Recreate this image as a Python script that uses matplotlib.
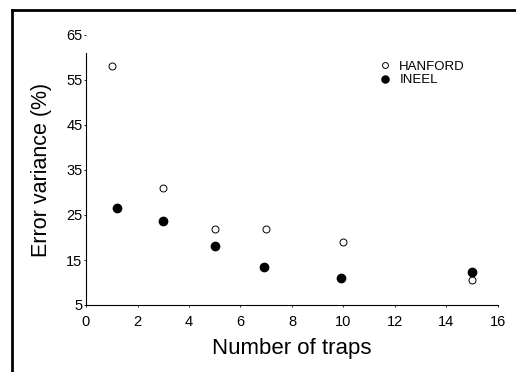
import matplotlib
matplotlib.use('Agg')
import matplotlib.pyplot as plt
from matplotlib.lines import Line2D

plt.rcParams['font.family'] = ['Liberation Sans', 'DejaVu Sans']

# number of traps and error variance (%)
hanford_x = [1, 3, 5, 7, 10, 15]
hanford_y = [58, 31, 22, 22, 19, 10.5]
ineel_x = [1.2, 3, 5, 6.9, 9.9, 15]
ineel_y = [26.5, 23.7, 18.2, 13.5, 10.9, 12.4]

xticks = [0, 2, 4, 6, 8, 10, 12, 14, 16]
yticks = [5, 15, 25, 35, 45, 55, 65]

fig = plt.figure(figsize=(5.16, 3.72), dpi=100)
ax = fig.add_axes([86/516, 67/372, 412/516, 270/372])

ax.plot(hanford_x, hanford_y, 'o', mfc='white', mec='black', mew=0.7,
        ms=5, ls='none', clip_on=False, label='HANFORD')
ax.plot(ineel_x, ineel_y, 'o', color='black', ms=6, ls='none',
        clip_on=False, label='INEEL')

ax.set_xlim(0, 16)
ax.set_ylim(5, 65)
ax.set_xticks(xticks)
ax.set_yticks(yticks)
ax.spines['top'].set_visible(False)
ax.spines['right'].set_visible(False)
ax.spines['left'].set_bounds(5, 61)
ax.spines['left'].set_linewidth(0.8)
ax.spines['bottom'].set_linewidth(0.8)
ax.tick_params(axis='y', length=1.5, width=0.6, pad=1, labelsize=10.5)
ax.tick_params(axis='x', length=1.5, width=0.6, pad=6, labelsize=10.5)

ax.set_xlabel('Number of traps', fontsize=16, labelpad=6)
ax.set_ylabel('Error variance (%)', fontsize=15.5, labelpad=10)

ax.legend(loc='upper left', bbox_to_anchor=(0.69, 0.93), frameon=False,
          fontsize=9.5, handletextpad=0.5, labelspacing=0.1,
          handlelength=1.2, borderpad=0, markerscale=0.85)

# scanned page frame
fig.add_artist(Line2D([12/516, 12/516], [0, 1 - 10/372],
                      color='black', lw=2, transform=fig.transFigure))
fig.add_artist(Line2D([12/516, 1], [1 - 10/372, 1 - 10/372],
                      color='black', lw=2, transform=fig.transFigure))

fig.savefig('out.png', dpi=100)
